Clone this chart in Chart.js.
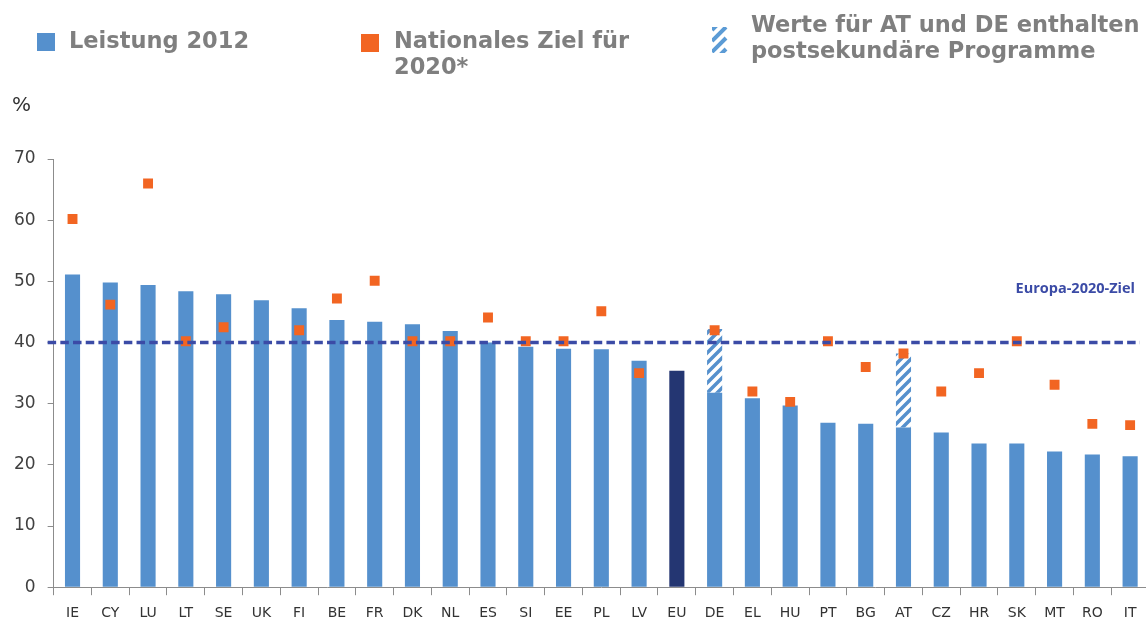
<!DOCTYPE html>
<html>
<head>
<meta charset="utf-8">
<script src="https://cdn.jsdelivr.net/npm/chart.js@4/dist/chart.umd.min.js"></script>
<style>
  html, body { margin: 0; background: #fff; font-family: "DejaVu Sans", sans-serif; overflow: hidden; }
  #wrap { position: relative; width: 1146px; height: 622px; overflow: hidden; }
  #chart { position: absolute; left: 0; top: 0; }
  .leg { position: absolute; color: #7f7f7f; font-weight: bold; font-size: 22.5px; line-height: 26px; white-space: nowrap; }
  .sw { position: absolute; width: 18px; height: 18px; }
  #pct { position: absolute; left: 12px; top: 92px; font-size: 20px; color: #333; }
</style>
</head>
<body>
<div id="wrap">
  <canvas id="chart" width="1156" height="622"></canvas>
  <div class="sw" style="left:37px; top:33px; background:#5590cd;"></div>
  <div class="leg" style="left:69px; top:27px;">Leistung 2012</div>
  <div class="sw" style="left:361px; top:34px; background:#f26522;"></div>
  <div class="leg" style="left:394px; top:27px;">Nationales Ziel für<br>2020*</div>
  <canvas id="hatchIcon" width="22" height="26" style="position:absolute; left:712px; top:27px;"></canvas>
  <div class="leg" style="left:751px; top:11px;">Werte für AT und DE enthalten<br>postsekundäre Programme</div>
  <div id="pct">%</div>
</div>
<script>
// =========================
// DATA
// =========================
const categories = ["IE", "CY", "LU", "LT", "SE", "UK", "FI", "BE", "FR", "DK", "NL", "ES", "SI", "EE", "PL", "LV", "EU", "DE", "EL", "HU", "PT", "BG", "AT", "CZ", "HR", "SK", "MT", "RO", "IT"];
const performance2012 = [51.1, 49.8, 49.4, 48.4, 47.9, 46.9, 45.6, 43.7, 43.4, 43.0, 41.9, 40.0, 39.3, 39.0, 38.9, 37.0, 35.4, 31.8, 30.9, 29.7, 26.9, 26.7, 26.1, 25.3, 23.5, 23.5, 22.2, 21.7, 21.4];
// extra share from post-secondary programmes (DE, AT only)
const postSecondary = [null, null, null, null, null, null, null, null, null, null, null, null, null, null, null, null, null, 10.4, null, null, null, null, 12.1, null, null, null, null, null, null];
const target2020 = [60.2, 46.2, 66.0, 40.2, 42.5, null, 42.0, 47.2, 50.1, 40.2, 40.2, 44.1, 40.2, 40.2, 45.1, 35.0, null, 42.0, 32.0, 30.3, 40.2, 36.0, 38.2, 32.0, 35.0, 40.2, 33.1, 26.7, 26.5];
const euTarget = 40;
const yTicks = [0, 10, 20, 30, 40, 50, 60, 70];

const BLUE = "#5590cd";
const NAVY = "#243672";
const ORANGE = "#f26522";
const LINE_BLUE = "#3b4ba6";

// =========================
// HATCH PATTERN
// =========================
function makeHatch() {
    const c = document.createElement("canvas");
    c.width = 10;
    c.height = 10;
    const g = c.getContext("2d");
    g.fillStyle = "#fff";
    g.fillRect(0, 0, 10, 10);
    g.strokeStyle = BLUE;
    g.lineWidth = 3.5;
    g.beginPath();
    g.moveTo(0, 10); g.lineTo(10, 0);
    g.moveTo(-2, 2); g.lineTo(2, -2);
    g.moveTo(8, 12); g.lineTo(12, 8);
    g.stroke();
    return c;
}
const hatchCanvas = makeHatch();

// legend icon: a few wide diagonal stripes
(function () {
    const g = document.getElementById("hatchIcon").getContext("2d");
    g.save();
    g.beginPath();
    g.rect(0, 0, 22, 26);
    g.clip();
    g.strokeStyle = "#5b9bd5";
    g.lineWidth = 4;
    g.beginPath();
    for (let k = -1; k < 4; k++) {
        const y0 = k * 11;
        g.moveTo(0, y0 + 14);
        g.lineTo(14, y0);
    }
    g.stroke();
    g.restore();
})();

// =========================
// EU TARGET LINE PLUGIN
// =========================
const targetLine = {
    id: "targetLine",
    afterDatasetsDraw(chart) {
        const { ctx, chartArea, scales } = chart;
        const y = scales.y.getPixelForValue(euTarget);
        ctx.save();
        ctx.strokeStyle = LINE_BLUE;
        ctx.lineWidth = 3.5;
        ctx.setLineDash([8.5, 4.2]);
        ctx.beginPath();
        ctx.moveTo(chartArea.left - 6, y);
        ctx.lineTo(1140, y);
        ctx.stroke();
        ctx.setLineDash([]);
        ctx.fillStyle = LINE_BLUE;
        ctx.font = "bold 14.5px 'Open Sans'";
        ctx.textAlign = "right";
        ctx.textBaseline = "middle";
        ctx.fillText("Europa-2020-Ziel", 1135, y - 54);
        ctx.restore();
    }
};

// =========================
// CHART
// =========================
const ctx = document.getElementById("chart").getContext("2d");
new Chart(ctx, {
    type: "bar",
    data: {
        labels: categories,
        datasets: [
            {
                type: "line",
                label: "Nationales Ziel für 2020*",
                data: target2020,
                stack: "target",
                showLine: false,
                pointStyle: "rect",
                pointRadius: 7,
                pointBackgroundColor: ORANGE,
                pointBorderColor: ORANGE,
                pointBorderWidth: 0,
                order: 0
            },
            {
                label: "Leistung 2012",
                data: performance2012,
                stack: "perf",
                backgroundColor: categories.map(c => c === "EU" ? NAVY : BLUE),
                barPercentage: 0.4,
                categoryPercentage: 1,
                order: 1
            },
            {
                label: "Werte für AT und DE enthalten postsekundäre Programme",
                data: postSecondary,
                stack: "perf",
                backgroundColor: ctx.createPattern(hatchCanvas, "repeat"),
                barPercentage: 0.4,
                categoryPercentage: 1,
                order: 2
            }
        ]
    },
    options: {
        responsive: false,
        animation: false,
        layout: { padding: { top: 159, left: 2, right: 0, bottom: -9 } },
        plugins: {
            legend: { display: false },
            tooltip: { enabled: false }
        },
        scales: {
            x: {
                stacked: true,
                border: { color: "#8c8c8c", width: 1 },
                grid: { display: true, drawOnChartArea: false, offset: true, tickLength: 8, color: "#8c8c8c" },
                ticks: { color: "#333", font: { family: "DejaVu Sans", size: 14 }, padding: 9.5, maxRotation: 0, autoSkip: false }
            },
            y: {
                stacked: true,
                min: 0,
                max: 70,
                afterBuildTicks: (axis) => { axis.ticks = yTicks.map(v => ({ value: v })); },
                border: { color: "#8c8c8c", width: 1 },
                grid: { display: true, drawOnChartArea: false, tickLength: 6, color: "#8c8c8c" },
                ticks: { color: "#404040", font: { family: "DejaVu Sans", size: 17 }, padding: 12 }
            }
        }
    },
    plugins: [targetLine]
});
</script>
</body>
</html>
